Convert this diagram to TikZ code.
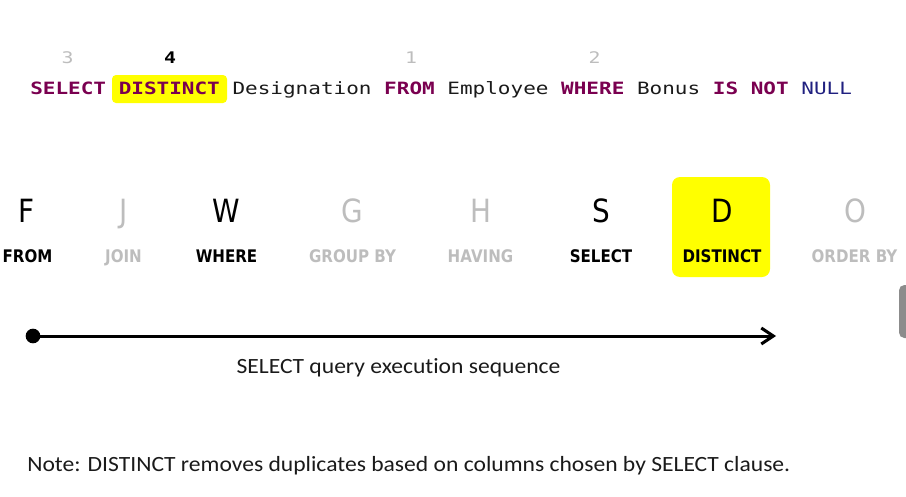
\documentclass[tikz,border=0pt]{standalone}
\usepackage{fontspec}
\usetikzlibrary{arrows.meta}
\setmainfont{Carlito}[FakeStretch=1.085, Ligatures=NoCommon]
\newfontfamily\sqlfont[FakeStretch=1.24]{DejaVu Sans Mono}
\newfontfamily\tahfont[FakeStretch=0.87]{DejaVu Sans}
\definecolor{kw}{HTML}{7A0050}
\definecolor{nullc}{HTML}{202080}
\definecolor{dim}{HTML}{BDBDBD}
\definecolor{hl}{HTML}{FFFF00}
\definecolor{txt}{HTML}{1A1A1A}
\definecolor{barc}{HTML}{8C8C8C}
\newcommand{\kwd}[1]{{\color{kw}\bfseries #1}}
\begin{document}
\begin{tikzpicture}[x=0.75pt,y=-0.75pt,
  sql/.style={font=\sqlfont\fontsize{12.7pt}{14pt}\selectfont, inner sep=0pt, anchor=base west, text=txt},
  num/.style={font=\sqlfont\fontsize{12pt}{14pt}\selectfont, inner sep=0pt, anchor=base},
  letter/.style={font=\tahfont\fontsize{24pt}{28pt}\selectfont, inner sep=0pt, anchor=base},
  lab/.style={font=\tahfont\bfseries\fontsize{13pt}{15pt}\selectfont, inner sep=0pt, anchor=base},
  on/.style={text=black},
  off/.style={text=dim},
  captxt/.style={font=\fontsize{16.3pt}{19pt}\selectfont, inner sep=0pt, text=txt},
  hlbox/.style={fill=hl, inner sep=0pt},
]
\useasboundingbox (0,0) rectangle (906,496);
\clip (0,0) rectangle (906,496);

% scroll bar at right edge
\fill[barc, rounded corners=4pt] (899,285) rectangle (915,338);

% order numbers
\node[num, text=dim] (n3) at (67.5,63) {3};
\node[num, text=black, font=\sqlfont\bfseries\fontsize{12pt}{14pt}\selectfont] (n4) at (170,63) {4};
\node[num, text=dim] (n1) at (411,63) {1};
\node[num, text=dim] (n2) at (594.5,63) {2};

% SQL line
\node[hlbox, rounded corners=3pt, minimum width=86.25pt, minimum height=21pt] (sqlhl) at (169.5,89) {};
\node[sql] (sql) at (30,94) {\kwd{SELECT} \kwd{DISTINCT} Designation \kwd{FROM} Employee \kwd{WHERE} Bonus \kwd{IS} \kwd{NOT} {\color{nullc}NULL}};

% highlighted step box
\node[hlbox, rounded corners=6pt, minimum width=73.5pt, minimum height=75pt] (dbox) at (721,227) {};

% step letters
\node[letter, on]  (F) at (27,222)  {F};
\node[letter, off] (J) at (124,222) {J};
\node[letter, on]  (W) at (226.5,222) {W};
\node[letter, off] (G) at (352,222) {G};
\node[letter, off] (H) at (481,222) {H};
\node[letter, on]  (S) at (601.5,222) {S};
\node[letter, on]  (D) at (722,222) {D};
\node[letter, off] (O) at (855,222) {O};

% step labels
\node[lab, on]  (lF) at (27.5,262)  {FROM};
\node[lab, off] (lJ) at (123.5,262) {JOIN};
\node[lab, on]  (lW) at (226.5,262) {WHERE};
\node[lab, off] (lG) at (352.5,262) {GROUP BY};
\node[lab, off] (lH) at (480.5,262) {HAVING};
\node[lab, on]  (lS) at (601,262) {SELECT};
\node[lab, on]  (lD) at (722,262) {DISTINCT};
\node[lab, off] (lO) at (854.5,262) {ORDER BY};

% timeline arrow
\node[circle, fill=black, minimum size=11pt, inner sep=0pt] (start) at (33,336) {};
\coordinate (end) at (776,336);
\draw[line width=2.25pt, -{Straight Barb[length=9pt,width=12pt]}] (start.center) -- (end);

\node[captxt, anchor=base] (cap) at (398.5,373) {SELECT query execution sequence};
\node[captxt, anchor=base west] (note) at (27,471) {Note: DISTINCT removes duplicates based on columns chosen by SELECT clause.};
\end{tikzpicture}
\end{document}
